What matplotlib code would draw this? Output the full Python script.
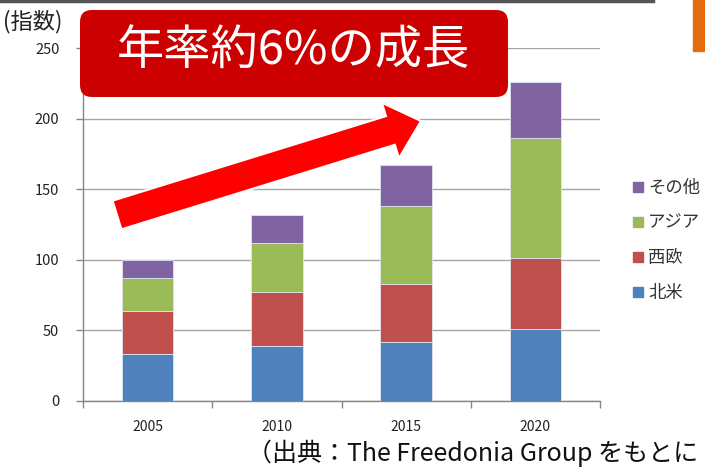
import numpy as np
import matplotlib
matplotlib.use('Agg')
import matplotlib.pyplot as plt
from matplotlib.patches import FancyBboxPatch, FancyArrow, Rectangle
from matplotlib.lines import Line2D
from matplotlib.transforms import IdentityTransform

plt.rcParams['font.family'] = ['Noto Sans CJK JP', 'DejaVu Sans']

# データ（指数）
years = ['2005', '2010', '2015', '2020']
hokubei = [33, 39, 42, 51]
seiou = [31, 38, 41, 50]
asia = [23, 35, 55, 85]
sonota = [13, 20, 29, 40]

series_names = ['北米', '西欧', 'アジア', 'その他']
series_vals = [hokubei, seiou, asia, sonota]
colores = ['#4F81BD', '#C0504D', '#9BBB59', '#8064A2']

W, H = 705, 467
fig = plt.figure(figsize=(W / 100, H / 100), dpi=100)

# px -> fracción de figura
def fx(x):
    return x / W

def fy(y):
    return (H - y) / H

ax = fig.add_axes([fx(83), fy(401), fx(600) - fx(83), fy(48) - fy(401)])

x = np.arange(len(years))
bottom = np.zeros(len(years))
for nombre, vals, col in zip(series_names, series_vals, colores):
    ax.bar(x, vals, width=0.4, bottom=bottom, color=col, edgecolor='#dfe6f0',
           linewidth=0.6, zorder=3, label=nombre)
    bottom += np.array(vals)

ax.set_ylim(0, 250)
ax.set_xlim(-0.5, 3.5)
ax.set_yticks(range(0, 251, 50))
ax.yaxis.grid(True, color='#a6a6a6', linewidth=1.0, zorder=0)
ax.set_axisbelow(True)

ax.set_xticks(x)
ax.set_xticklabels(years)
ax.set_xticks(np.arange(-0.5, 3.6, 1), minor=True)
ax.tick_params(axis='x', which='major', length=0, pad=14, labelsize=10, colors='#222222')
ax.tick_params(axis='x', which='minor', length=5, width=1, color='#868686', direction='out')
ax.tick_params(axis='y', length=5, width=1, color='#868686', pad=12, labelsize=10.5,
               labelcolor='#222222')

for s in ['top', 'right']:
    ax.spines[s].set_visible(False)
for s in ['left', 'bottom']:
    ax.spines[s].set_color('#868686')
    ax.spines[s].set_linewidth(1.0)

# leyenda (orden invertido)
handles = [Line2D([], [], marker='s', linestyle='none', markersize=6.5,
                  markerfacecolor=c, markeredgecolor=c) for c in colores[::-1]]
fig.legend(handles, series_names[::-1], loc='upper left',
           bbox_to_anchor=(fx(616), fy(163)), frameon=False, fontsize=12.5,
           handlelength=0.7, handletextpad=0.25, labelspacing=0.98,
           labelcolor='#333333')

# etiqueta del eje
fig.text(fx(3), fy(22), '(指数)', fontsize=16, va='center', ha='left', color='#222222')

# línea superior y bloque naranja
fig.add_artist(Line2D([fx(0), fx(653)], [fy(1), fy(1)], color='#555555', linewidth=2.5))
fig.add_artist(Rectangle((fx(693), fy(51)), fx(705) - fx(693), fy(0) - fy(51),
                         transform=fig.transFigure, color='#E46C0A'))

# caja del título
caja = FancyBboxPatch((80, H - 97), 428, 87, boxstyle='round,pad=0,rounding_size=12',
                      transform=IdentityTransform(), facecolor='#CC0000',
                      edgecolor='none', zorder=5)
fig.add_artist(caja)
fig.text(fx(293), fy(52), '年率約6%の成長', fontsize=34, color='white',
         ha='center', va='center', zorder=6)

# flecha roja
x0, y0 = 117, H - 215
x1, y1 = 421, H - 121
flecha = FancyArrow(x0, y0, x1 - x0, y1 - y0, width=30, head_width=58, head_length=32,
                    length_includes_head=True, transform=IdentityTransform(),
                    facecolor='#FF0000', edgecolor='white', linewidth=1.5, zorder=7)
fig.add_artist(flecha)

# fuente (visible part, as in the reference)
fig.text(fx(247), fy(453), '（出典：The Freedonia Group をもとに', fontsize=18,
         ha='left', va='center', color='#111111')

fig.savefig('out.png', dpi=100)
